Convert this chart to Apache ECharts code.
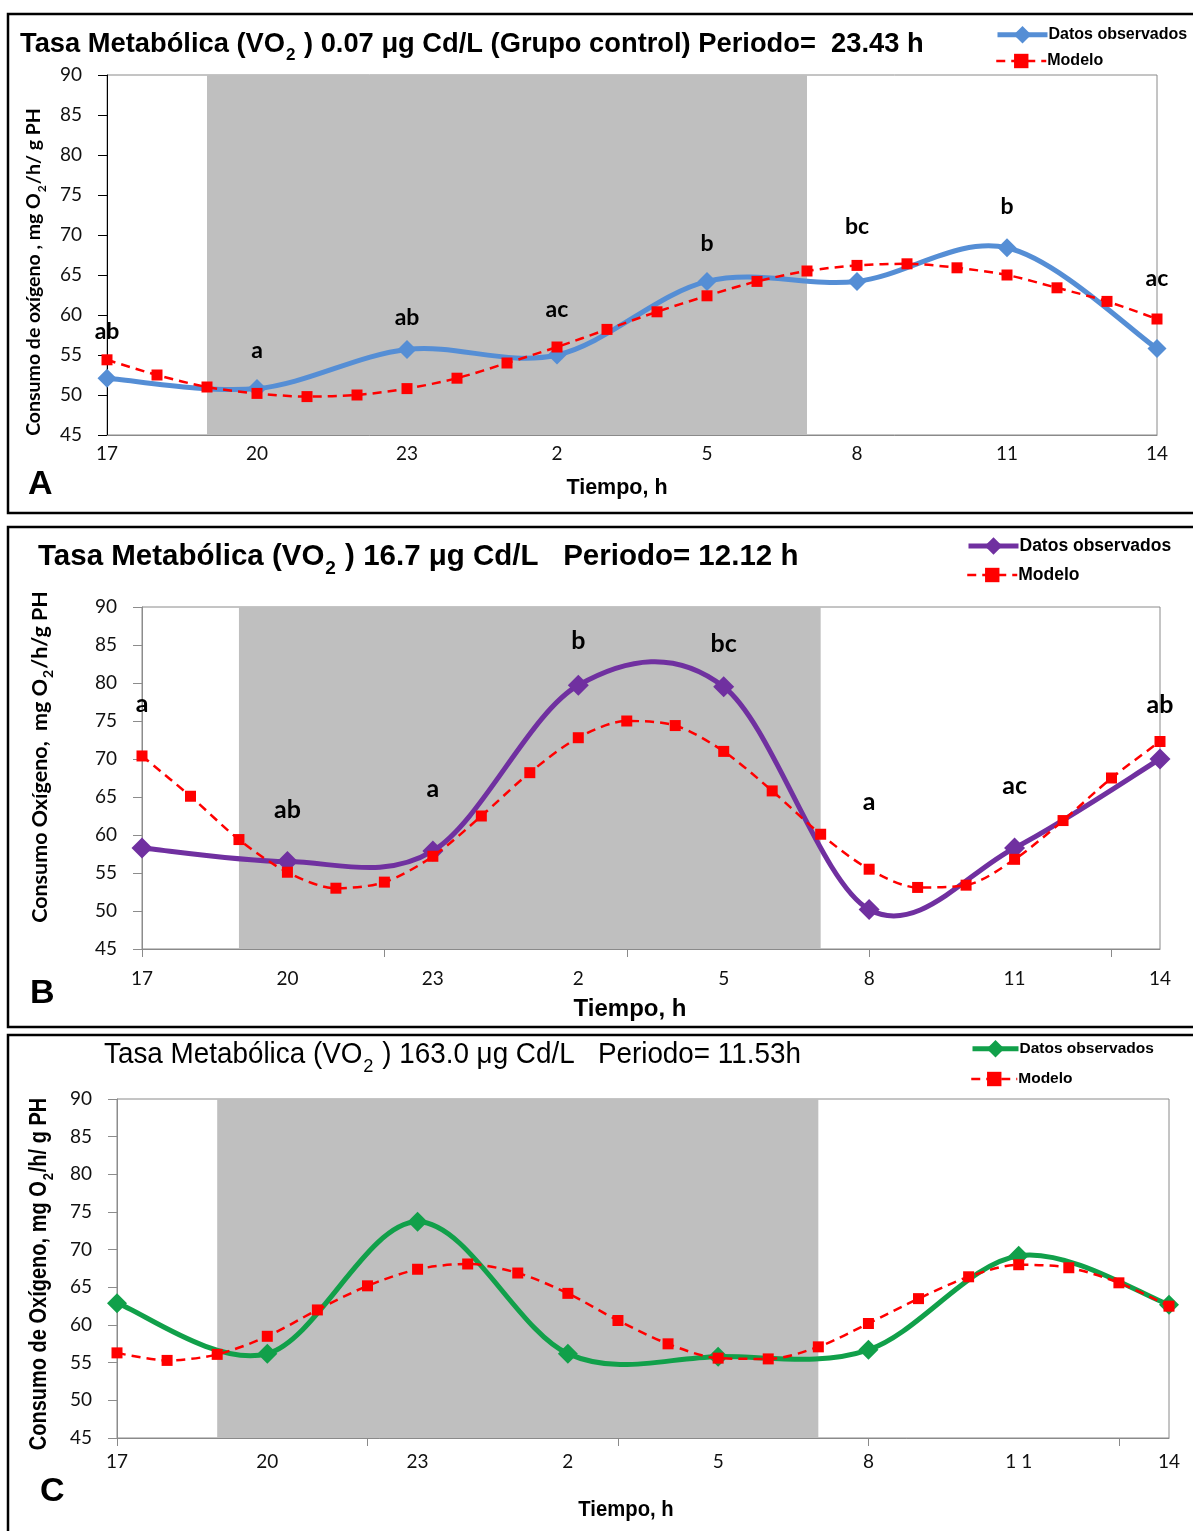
<!DOCTYPE html>
<html><head><meta charset="utf-8">
<script src="https://cdn.jsdelivr.net/npm/echarts@6/dist/echarts.min.js"></script>
<style>html,body{margin:0;padding:0;background:#fff}#c{width:1193px;height:1531px}</style>
</head><body><div id="c"></div>
<script>
// ---------- data ----------
const hours = [17,18,19,20,21,22,23,0,1,2,3,4,5,6,7,8,9,10,11,12,13,14];
const obsHours = [17,20,23,2,5,8,11,14];
const nightStart = 19, nightEnd = 7;
const yTicks = [45,50,55,60,65,70,75,80,85,90];

const tickLabelsA = ['17','20','23','2','5','8','11','14'];
const tickLabelsB = ['17','20','23','2','5','8','11','14'];
const tickLabelsC = ['17','20','23','2','5','8','1 1','14'];

const obsA = [52.1, 50.8, 55.7, 55.0, 64.2, 64.2, 68.4, 55.8];
const modelA = [54.4,52.5,51.0,50.2,49.8,50.0,50.8,52.1,54.0,56.0,58.2,60.4,62.4,64.2,65.5,66.2,66.4,65.9,65.0,63.4,61.7,59.5];
const lettersA = ['ab','a','ab','ac','b','bc','b','ac'];
const letterYA = [57.9, 55.5, 59.7, 60.7, 68.9, 71.0, 73.5, 64.5];

const obsB = [58.3, 56.5, 57.9, 79.7, 79.5, 50.2, 58.3, 70.0];
const modelB = [70.4,65.1,59.4,55.1,53.0,53.8,57.2,62.5,68.2,72.8,75.0,74.4,71.0,65.8,60.1,55.5,53.1,53.4,56.8,61.9,67.5,72.3];
const lettersB = ['a','ab','a','b','bc','a','ac','ab'];
const letterYB = [77.3, 63.3, 66.1, 85.5, 85.1, 64.4, 66.5, 77.1];

const obsC = [62.9, 56.2, 73.7, 56.2, 55.8, 56.7, 69.2, 62.7];
const modelC = [56.3,55.3,56.1,58.5,62.0,65.2,67.4,68.1,66.9,64.2,60.6,57.5,55.6,55.5,57.1,60.2,63.5,66.4,68.0,67.6,65.6,62.5];

const titleA = ['Tasa Metabólica (VO', '2', ' ) 0.07 μg Cd/L (Grupo control) Periodo=  23.43 h'];
const titleB = ['Tasa Metabólica (VO', '2', ' ) 16.7 μg Cd/L   Periodo= 12.12 h'];
const titleC = ['Tasa Metabólica (VO', '2', ' ) 163.0 μg Cd/L   Periodo= 11.53h'];
const yNameA = ['Consumo de oxígeno , mg O', '2', '/h/ g PH'];
const yNameB = ['Consumo Oxígeno,  mg O', '2', '/h/g PH'];
const yNameC = ['Consumo de Oxígeno, mg O', '2', '/h/ g PH'];
const xName = 'Tiempo, h';
const legendNames = ['Datos observados', 'Modelo'];

// ---------- build ----------
const idx = h => hours.indexOf(h);
const SANS = '"Liberation Sans", Arial, sans-serif';
const CAL = 'Lato, "Open Sans", sans-serif';

const panels = [
  {key:'A', grid:{left:107, top:75, width:1050, height:360}, color:'#558ED5', obs:obsA, model:modelA,
   letters:lettersA, letterY:letterYA, tickLabels:tickLabelsA, title:titleA, yName:yNameA,
   titleText:{x:20, y:44, family:SANS, weight:'bold', size:27.3, scale:1},
   yNameText:{x:34, y:272, family:CAL, weight:'bold', size:19.5, scale:1}, yAxisColor:'#000',
   xNameText:{x:617, y:488, family:SANS, size:21.5, scale:1},
   xTicks:false, xLabelMargin:9, symbolSize:19,
   legend:{left:995, rows:[37,62], size:16, w:50},
   letterFont:{weight:'bold', size:23}, border:{y:14,h:499}, panelLetter:{text:'A', left:28, top:468}},
  {key:'B', grid:{left:142, top:607, width:1018, height:342}, color:'#7030A0', obs:obsB, model:modelB,
   letters:lettersB, letterY:letterYB, tickLabels:tickLabelsB, title:titleB, yName:yNameB,
   titleText:{x:38, y:557, family:SANS, weight:'bold', size:29.5, scale:1},
   yNameText:{x:40, y:757, family:CAL, weight:'bold', size:21.5, scale:1}, yAxisColor:'#8c8c8c',
   xNameText:{x:630, y:1009, family:SANS, size:24, scale:1},
   xTicks:true, xLabelMargin:20, symbolSize:21,
   legend:{left:966, rows:[548,575], size:17.5, w:50},
   letterFont:{weight:'bold', size:25}, border:{y:527,h:500}, panelLetter:{text:'B', left:30, top:977}},
  {key:'C', grid:{left:117, top:1099, width:1052, height:339}, color:'#11A04A', obs:obsC, model:modelC,
   letters:null, letterY:null, tickLabels:tickLabelsC, title:titleC, yName:yNameC,
   titleText:{x:104, y:1055, family:SANS, weight:'normal', size:29, scale:0.96},
   yNameText:{x:40, y:1274, family:SANS, weight:'bold', size:23, scale:0.87},
   xNameText:{x:626, y:1510, family:SANS, size:22.5, scale:0.9}, yAxisColor:'#8c8c8c',
   xTicks:true, xLabelMargin:14, symbolSize:20,
   legend:{left:970, rows:[1051,1080], size:15.5, w:46},
   letterFont:null, border:{y:1035,h:510}, panelLetter:{text:'C', left:40, top:1475}}
];

const option = {
  animation:false, backgroundColor:'#fff',
  grid:[], xAxis:[], yAxis:[], series:[], legend:[], graphic:[]
};

function richText(parts, f, horizontal) {
  return {
    text:`{t|${parts[0]}}{s|${parts[1]}}{t|${parts[2]}}`,
    rich:{
      t:{fontFamily:f.family, fontWeight:f.weight, fontSize:f.size, fill:'#000', lineHeight:Math.round(f.size*1.25)},
      s:{fontFamily:f.family, fontWeight:f.weight, fontSize:Math.round(f.size*0.64), fill:'#000', verticalAlign:'bottom',
         lineHeight:Math.round(f.size*0.64), padding:[0,1,horizontal?-3:-2,1]}
    }
  };
}

function smoothCurve(i, xs, ys, color, width) {
  // Catmull-Rom (Excel style) curve drawn through the data points via the axis scales
  const n = xs.length;
  return {
    type:'custom', xAxisIndex:i, yAxisIndex:i, z:2, silent:true, clip:false,
    data: xs.map((x,k) => [x, ys[k]]),
    renderItem: (params, api) => {
      const k = params.dataIndex;
      if (k >= n-1) return null;
      const P = j => { const c = Math.max(0, Math.min(n-1, j)); return api.coord([xs[c], ys[c]]); };
      const p0 = P(k-1), p1 = P(k), p2 = P(k+1), p3 = P(k+2);
      return {type:'bezierCurve', shape:{
          x1:p1[0], y1:p1[1], x2:p2[0], y2:p2[1],
          cpx1:p1[0]+(p2[0]-p0[0])/6, cpy1:p1[1]+(p2[1]-p0[1])/6,
          cpx2:p2[0]-(p3[0]-p1[0])/6, cpy2:p2[1]-(p3[1]-p1[1])/6},
        style:{stroke:color, lineWidth:width, fill:null, lineCap:'round'}};
    }
  };
}

panels.forEach((p, i) => {
  const tt = p.titleText;
  option.graphic.push({type:'text', x:tt.x, y:tt.y, scaleX:tt.scale, z:10, silent:true,
    style:Object.assign({align:'left', verticalAlign:'middle'}, richText(p.title, tt, true))});
  const yn = p.yNameText;
  option.graphic.push({type:'text', x:yn.x, y:yn.y, rotation:Math.PI/2, scaleX:yn.scale, z:10, silent:true,
    style:Object.assign({align:'center', verticalAlign:'middle'}, richText(p.yName, yn, false))});
  const xn = p.xNameText;
  option.graphic.push({type:'text', x:xn.x, y:xn.y, scaleX:xn.scale, z:10, silent:true,
    style:{text:xName, align:'center', verticalAlign:'middle', fontFamily:xn.family, fontWeight:'bold', fontSize:xn.size, fill:'#000'}});

  option.grid.push(Object.assign({show:true, borderColor:'#8a8a8a', borderWidth:1, backgroundColor:'transparent'}, p.grid));
  const labIdx = obsHours.map(idx);
  option.xAxis.push({
    type:'value', gridIndex:i, min:0, max:hours.length-1,
    axisLine:{lineStyle:{color:'#8a8a8a', width:1}},
    axisTick:{show:p.xTicks, customValues:[0,5,10,15,20], length:8, lineStyle:{color:'#8a8a8a'}},
    axisLabel:{customValues:labIdx, margin:p.xLabelMargin, fontFamily:CAL, fontSize:19, color:'#111',
      formatter: v => p.tickLabels[labIdx.indexOf(v)]},
    splitLine:{show:false}
  });
  option.yAxis.push({
    type:'value', gridIndex:i, min:yTicks[0], max:yTicks[yTicks.length-1], interval:yTicks[1]-yTicks[0],
    axisLine:{show:true, lineStyle:{color:p.yAxisColor, width:1}},
    axisTick:{show:true, inside:false, length:9, lineStyle:{color:p.yAxisColor}},
    axisLabel:{margin:25, fontFamily:CAL, fontSize:19, color:'#111'},
    splitLine:{show:false}
  });
  const obsName = 'obs'+p.key, modName = 'mod'+p.key;
  // observed: smooth curve + diamond markers
  option.series.push(smoothCurve(i, obsHours.map(idx), p.obs, p.color, 5));
  option.series.push({
    name:obsName, type:'line', xAxisIndex:i, yAxisIndex:i, z:3,
    data: obsHours.map((h,k) => [idx(h), p.obs[k]]),
    symbol:'diamond', symbolSize:p.symbolSize, lineStyle:{color:p.color, width:5, opacity:0}, itemStyle:{color:p.color},
    markArea:{silent:true, itemStyle:{color:'#BFBFBF'}, z:1, data:[[{xAxis:idx(nightStart)}, {xAxis:idx(nightEnd)}]]}
  });
  option.series.push({
    name:modName, type:'line', xAxisIndex:i, yAxisIndex:i, smooth:0.3, z:4,
    data: hours.map((h,k) => [k, p.model[k]]),
    symbol:'rect', symbolSize:11, lineStyle:{color:'#FF0000', width:2.5, type:[9,6]}, itemStyle:{color:'#FF0000'}
  });
  if (p.letters) {
    option.series.push({
      type:'scatter', xAxisIndex:i, yAxisIndex:i, z:5, symbolSize:1, itemStyle:{color:'rgba(0,0,0,0)'},
      data: obsHours.map((h,k) => [idx(h), p.letterY[k], p.letters[k]]),
      label:{show:true, position:'inside', formatter: d => d.value[2], fontFamily:CAL, opacity:1,
        fontWeight:p.letterFont.weight, fontSize:p.letterFont.size, color:'#000', textBorderWidth:0}
    });
  }
  const lg = p.legend;
  const lgText = {fontFamily:SANS, fontWeight:'bold', fontSize:lg.size, color:'#000', padding:[0,0,0,-4]};
  option.legend.push({
    left:lg.left, top:lg.rows[0]-11, itemWidth:lg.w, itemHeight:22, padding:0,
    data:[obsName], formatter: () => legendNames[0],
    lineStyle:{opacity:1, width:5}, textStyle:lgText, selectedMode:false
  });
  option.legend.push({
    left:lg.left, top:lg.rows[1]-9, itemWidth:lg.w, itemHeight:18, padding:0,
    data:[modName], formatter: () => legendNames[1],
    lineStyle:{width:2.5}, textStyle:lgText, selectedMode:false
  });
  option.graphic.push({type:'rect', silent:true, z:0, shape:{x:8, y:p.border.y, width:1200, height:p.border.h},
    style:{fill:'none', stroke:'#000', lineWidth:2.5}});
  option.graphic.push({type:'text', left:p.panelLetter.left, top:p.panelLetter.top, z:10,
    style:{text:p.panelLetter.text, font:'bold 34px "Liberation Sans", Arial, sans-serif', fill:'#000'}});
});

const chart = echarts.init(document.getElementById('c'), null, {renderer:'canvas'});
chart.setOption(option);
</script></body></html>
